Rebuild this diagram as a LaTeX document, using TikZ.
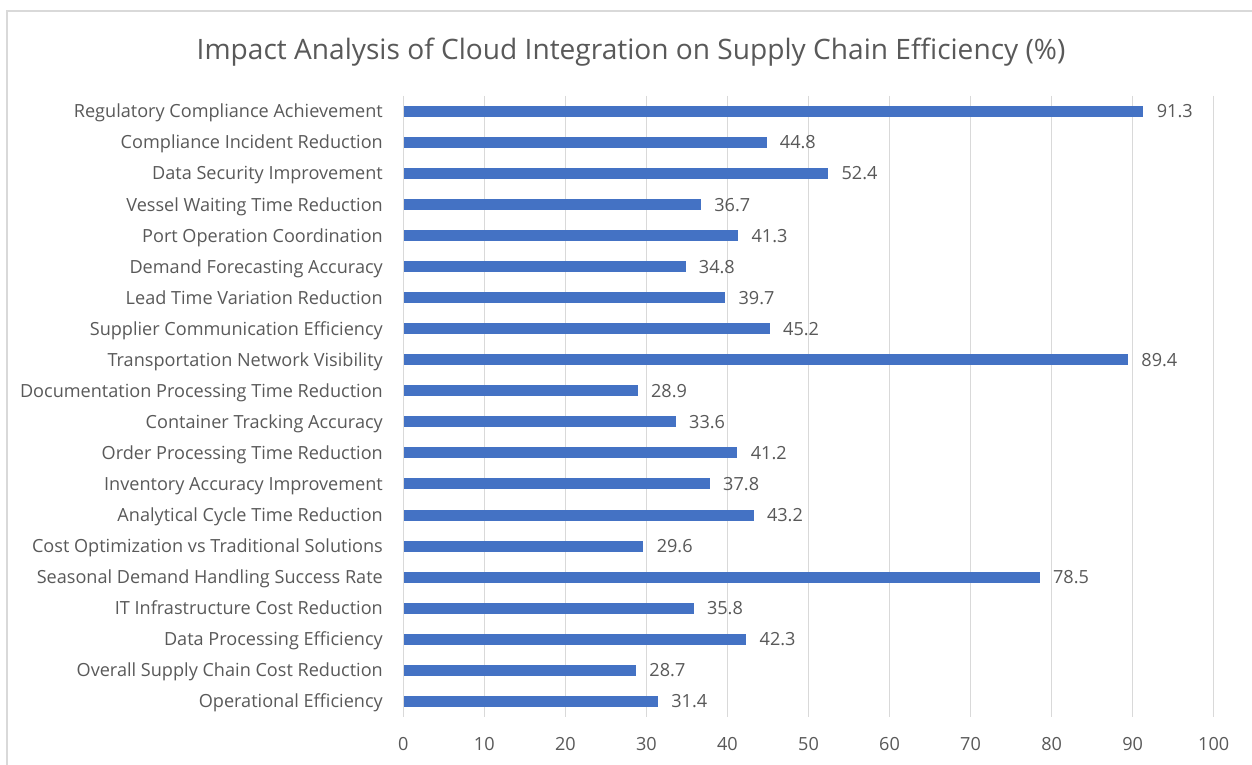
\documentclass[tikz,border=0pt]{standalone}
\usepackage{fontspec}
\setmainfont{Open Sans}
\definecolor{barblue}{HTML}{4472C4}
\definecolor{gridgrey}{HTML}{D9D9D9}
\definecolor{txtgrey}{HTML}{595959}
\begin{document}
\begin{tikzpicture}[x=1pt,y=-1pt,
  bar/.style={fill=barblue,draw=none},
  grid/.style={draw=gridgrey,line width=1.5pt},
  catlabel/.style={anchor=base east,text=txtgrey,font=\fontsize{18.1}{20}\selectfont,inner sep=0pt},
  vallabel/.style={anchor=base west,text=txtgrey,font=\fontsize{18.1}{20}\selectfont,inner sep=0pt},
  ticklabel/.style={anchor=base,text=txtgrey,font=\fontsize{18.1}{20}\selectfont,inner sep=0pt},
  titlestyle/.style={anchor=base,text=txtgrey,font=\fontsize{28.1}{30}\selectfont,inner sep=0pt}]
\useasboundingbox (0,0) rectangle (1252,765);
\fill[white] (0,0) rectangle (1252,765);
\draw[draw=gridgrey,line width=1.5pt] (7,770) -- (7,11) -- (1260,11);
\node[titlestyle] (title) at (631,59.3) {Impact Analysis of Cloud Integration on Supply Chain Efficiency (\%)};
% gridlines and ticks
\foreach \v in {0,10,...,100} {
  \draw[grid] ({403.3+8.104*\v},96) -- ({403.3+8.104*\v},716.7);
  \node[ticklabel] (t\v) at ({403.3+8.104*\v},750.5) {\v};
}
% bars
\foreach [count=\i from 0] \lab/\val in {
  Regulatory Compliance Achievement/91.3,
  Compliance Incident Reduction/44.8,
  Data Security Improvement/52.4,
  Vessel Waiting Time Reduction/36.7,
  Port Operation Coordination/41.3,
  Demand Forecasting Accuracy/34.8,
  Lead Time Variation Reduction/39.7,
  Supplier Communication Efficiency/45.2,
  Transportation Network Visibility/89.4,
  Documentation Processing Time Reduction/28.9,
  Container Tracking Accuracy/33.6,
  Order Processing Time Reduction/41.2,
  Inventory Accuracy Improvement/37.8,
  Analytical Cycle Time Reduction/43.2,
  Cost Optimization vs Traditional Solutions/29.6,
  Seasonal Demand Handling Success Rate/78.5,
  IT Infrastructure Cost Reduction/35.8,
  Data Processing Efficiency/42.3,
  Overall Supply Chain Cost Reduction/28.7,
  Operational Efficiency/31.4} {
  \pgfmathsetmacro{\yc}{111.5+31.04*\i}
  \node[bar,minimum width={8.104*\val},minimum height=11,inner sep=0pt,anchor=west] (b\i) at (403.3,\yc) {};
  \node[catlabel] (c\i) at (383,\yc+6.4) {\lab};
  \node[vallabel] (v\i) at ([xshift=13pt,yshift=-6.4pt]b\i.east) {\val};
}
\end{tikzpicture}
\end{document}
